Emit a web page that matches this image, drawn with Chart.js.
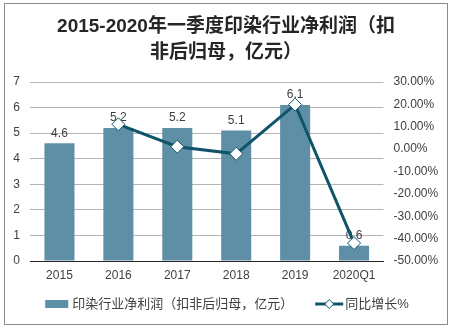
<!DOCTYPE html>
<html>
<head>
<meta charset="utf-8">
<script src="https://cdn.jsdelivr.net/npm/chart.js@4.4.1/dist/chart.umd.min.js"></script>
<style>
  html, body { margin: 0; padding: 0; background: #fff; }
  #wrap { width: 452px; height: 329px; }
</style>
</head>
<body>
<div id="wrap"><canvas id="chart" width="452" height="329"></canvas></div>
<script>
const categories = ['2015', '2016', '2017', '2018', '2019', '2020Q1'];
const profit = [4.6, 5.2, 5.2, 5.1, 6.1, 0.6];
const growth = [null, 11.1, 1.1, -2.1, 19.9, -42.0];
const titleLines = ['2015-2020年一季度印染行业净利润（扣', '非后归母，亿元）'];
const barLabel = '印染行业净利润（扣非后归母，亿元）';
const lineLabel = '同比增长%';

const barColor = '#5E8FA6';
const lineColor = '#0F5468';
const textColor = '#404040';
const fontFamily = '"Liberation Sans", Arial, "Noto Sans CJK SC", sans-serif';

// white background, grey frame, title
const frame = {
  id: 'frame',
  beforeDraw(chart) {
    const ctx = chart.ctx;
    ctx.save();
    ctx.fillStyle = '#fff';
    ctx.fillRect(0, 0, chart.width, chart.height);
    ctx.strokeStyle = '#8c8c8c';
    ctx.lineWidth = 1;
    ctx.strokeRect(4.5, 3.5, 443, 321);

    ctx.fillStyle = '#262626';
    ctx.font = 'bold 19px ' + fontFamily;
    ctx.textAlign = 'center';
    ctx.textBaseline = 'middle';
    titleLines.forEach((t, i) => ctx.fillText(t, 226, 27 + i * 26));
    ctx.restore();
  }
};

// value labels above the bars, under the line
const barValues = {
  id: 'barValues',
  afterDatasetDraw(chart, args) {
    if (args.index !== 0) return;
    const ctx = chart.ctx;
    ctx.save();
    ctx.font = '12px ' + fontFamily;
    ctx.fillStyle = textColor;
    ctx.textAlign = 'center';
    ctx.textBaseline = 'bottom';
    args.meta.data.forEach((bar, i) => {
      ctx.fillText(profit[i].toFixed(1), bar.x, bar.y - 4);
    });
    ctx.restore();
  }
};

// legend below the x axis
const bottomLegend = {
  id: 'bottomLegend',
  afterDraw(chart) {
    const ctx = chart.ctx;
    ctx.save();
    ctx.font = '13px ' + fontFamily;
    ctx.textBaseline = 'middle';
    ctx.textAlign = 'left';
    const y = 304;
    const w1 = ctx.measureText(barLabel).width;
    const w2 = ctx.measureText(lineLabel).width;
    const total = 23 + 4 + w1 + 22 + 28 + 2 + w2;
    let x = 227 - total / 2;

    ctx.fillStyle = barColor;
    ctx.fillRect(x, y - 4, 23, 8);
    x += 27;
    ctx.fillStyle = textColor;
    ctx.fillText(barLabel, x, y);
    x += w1 + 22;

    ctx.strokeStyle = lineColor;
    ctx.lineWidth = 3;
    ctx.beginPath(); ctx.moveTo(x, y); ctx.lineTo(x + 28, y); ctx.stroke();
    const cx = x + 14;
    ctx.fillStyle = '#fff';
    ctx.lineWidth = 1;
    ctx.beginPath();
    ctx.moveTo(cx, y - 4.5); ctx.lineTo(cx + 4.5, y); ctx.lineTo(cx, y + 4.5); ctx.lineTo(cx - 4.5, y);
    ctx.closePath(); ctx.fill(); ctx.stroke();
    x += 30;
    ctx.fillStyle = textColor;
    ctx.fillText(lineLabel, x, y);
    ctx.restore();
  }
};

new Chart(document.getElementById('chart').getContext('2d'), {
  data: {
    labels: categories,
    datasets: [
      {
        type: 'bar',
        label: barLabel,
        data: profit,
        backgroundColor: barColor,
        barPercentage: 0.51,
        categoryPercentage: 1,
        yAxisID: 'y',
        order: 2
      },
      {
        type: 'line',
        label: lineLabel,
        data: growth,
        borderColor: lineColor,
        borderWidth: 3,
        pointStyle: 'rectRot',
        pointRadius: 6.5,
        pointBackgroundColor: '#fff',
        pointBorderColor: lineColor,
        pointBorderWidth: 1,
        tension: 0,
        yAxisID: 'y1',
        order: 1
      }
    ]
  },
  options: {
    responsive: false,
    animation: false,
    layout: { padding: { left: 0, right: 0, top: 82, bottom: 46 } },
    scales: {
      x: {
        offset: true,
        afterFit(s) { s.height = 22; },
        grid: { display: false, drawTicks: false },
        border: { color: '#262626', width: 1 },
        ticks: { color: textColor, font: { size: 12, family: fontFamily }, padding: 7 }
      },
      y: {
        position: 'left',
        min: 0, max: 7,
        afterFit(s) { s.width = 30; },
        grid: { color: '#b4b4b4', drawTicks: false },
        border: { display: false },
        ticks: { stepSize: 1, color: textColor, font: { size: 12, family: fontFamily }, padding: 10 }
      },
      y1: {
        position: 'right',
        min: -50, max: 30,
        afterFit(s) { s.width = 68.5; },
        grid: { display: false, drawTicks: false },
        border: { display: false },
        ticks: {
          stepSize: 10, color: textColor, font: { size: 12, family: fontFamily }, padding: 10,
          callback: v => v.toFixed(2) + '%'
        }
      }
    },
    plugins: {
      title: { display: false },
      legend: { display: false },
      tooltip: { enabled: false }
    }
  },
  plugins: [frame, barValues, bottomLegend]
});
</script>
</body>
</html>
